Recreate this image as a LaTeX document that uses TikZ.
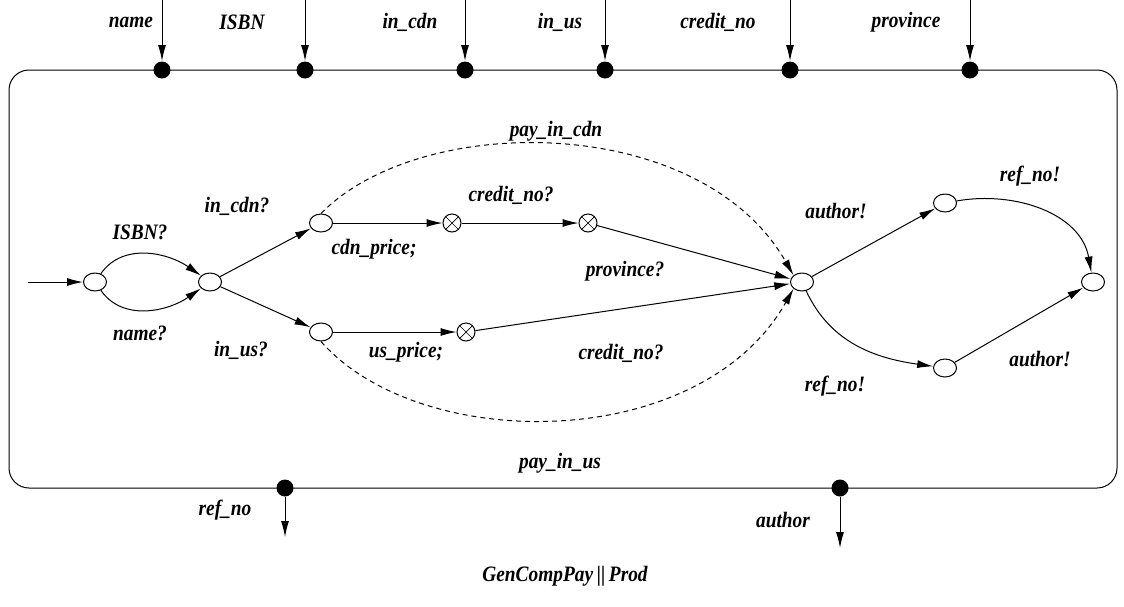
\documentclass[tikz,border=0pt]{standalone}
\usepackage{fontspec}
\setmainfont{Liberation Serif}[FakeStretch=0.88]
\usetikzlibrary{arrows.meta,shapes.geometric}
\newcommand{\lblfont}{\fontsize{22}{24}\selectfont\bfseries\itshape}

\begin{document}
\begin{tikzpicture}[x=1pt,y=-1pt,line width=1pt,
  arr/.style={-{Latex[length=16pt,width=8pt]}},
  state/.style={draw,ellipse,minimum width=23pt,minimum height=18pt,inner sep=0pt},
  xstate/.style={draw,circle,minimum size=18pt,inner sep=0pt},
  port/.style={fill,circle,minimum size=17pt,inner sep=0pt},
  lbl/.style={font=\lblfont}]
\useasboundingbox (0,0) rectangle (1124,606);
% component box
\draw[rounded corners=20pt] (9,70) rectangle (1117,488);
% input ports
\foreach \x/\n/\t/\lx in {162/pname/name/131,305/pisbn/ISBN/242,
    465/pcdn/in\_cdn/410,605/pus/in\_us/560,790/pcredit/credit\_no/718,
    970/pprov/province/906} {
  \node[port] (\n) at (\x,70) {};
  \coordinate (\n top) at (\x,0);
  \draw[arr] (\n top) -- (\n);
  \node[lbl] at (\lx,22) {\t};
}
% output ports
\node[port] (pref) at (285,488) {};
\node[port] (pauth) at (840,488) {};
\coordinate (pref end) at (285,537);
\coordinate (pauth end) at (840,548);
\draw[arr] (pref) -- (pref end);
\draw[arr] (pauth) -- (pauth end);
\node[lbl] at (225,510) {ref\_no};
\node[lbl] at (783,520) {author};
\node[lbl] at (565,576) {GenCompPay\,||\,Prod};
% states
\node[state] (s0) at (95,282) {};
\node[state] (s1) at (210,282) {};
\node[state] (s2) at (321,223) {};
\node[state] (s3) at (321,332) {};
\node[xstate] (x1) at (452,223) {};
\node[xstate] (x2) at (588,223) {};
\node[xstate] (x3) at (466,332) {};
\node[state] (s4) at (802,282) {};
\node[state] (s5) at (945,203) {};
\node[state] (s6) at (945,368) {};
\node[state] (s7) at (1093,282) {};
\foreach \c in {x1,x2,x3} {
  \draw[line width=0.7pt] (\c.north east) -- (\c.south west)
    (\c.north west) -- (\c.south east);
}
\coordinate (start) at (28,282);
% transitions
\draw[arr] (start) -- (s0);
\draw[arr] (s0) to[out=55,in=145] (s1);
\draw[arr] (s0) to[out=-55,in=-145] (s1);
\draw[arr] (s1) -- (s2);
\draw[arr] (s1) -- (s3);
\draw[arr] (s2) -- (x1);
\draw[arr] (x1) -- (x2);
\draw[arr] (x2) -- (s4);
\draw[arr] (s3) -- (x3);
\draw[arr] (x3) -- (s4);
\draw[arr,dash pattern=on 5pt off 4pt] (s2.north) .. controls (420,112) and (700,112) .. (s4.north west);
\draw[arr,dash pattern=on 5pt off 4pt] (s3.south) .. controls (420,454) and (700,454) .. (s4.south west);
\draw[arr] (s4) -- (s5);
\draw[arr] (s5) to[out=10,in=100] (s7);
\draw[arr] (s4) to[out=-65,in=172] (s6);
\draw[arr] (s6) -- (s7);
% labels
\node[lbl] at (140,232) {ISBN?};
\node[lbl] at (140,333) {name?};
\node[lbl] at (237,206) {in\_cdn?};
\node[lbl] at (241,350) {in\_us?};
\node[lbl] at (374,249) {cdn\_price;};
\node[lbl] at (511,195) {credit\_no?};
\node[lbl] at (625,271) {province?};
\node[lbl] at (406,352) {us\_price;};
\node[lbl] at (621,353) {credit\_no?};
\node[lbl] at (556,131) {pay\_in\_cdn};
\node[lbl] at (560,463) {pay\_in\_us};
\node[lbl] at (836,211) {author!};
\node[lbl] at (1030,176) {ref\_no!};
\node[lbl] at (835,386) {ref\_no!};
\node[lbl] at (1040,359) {author!};
\end{tikzpicture}
\end{document}
